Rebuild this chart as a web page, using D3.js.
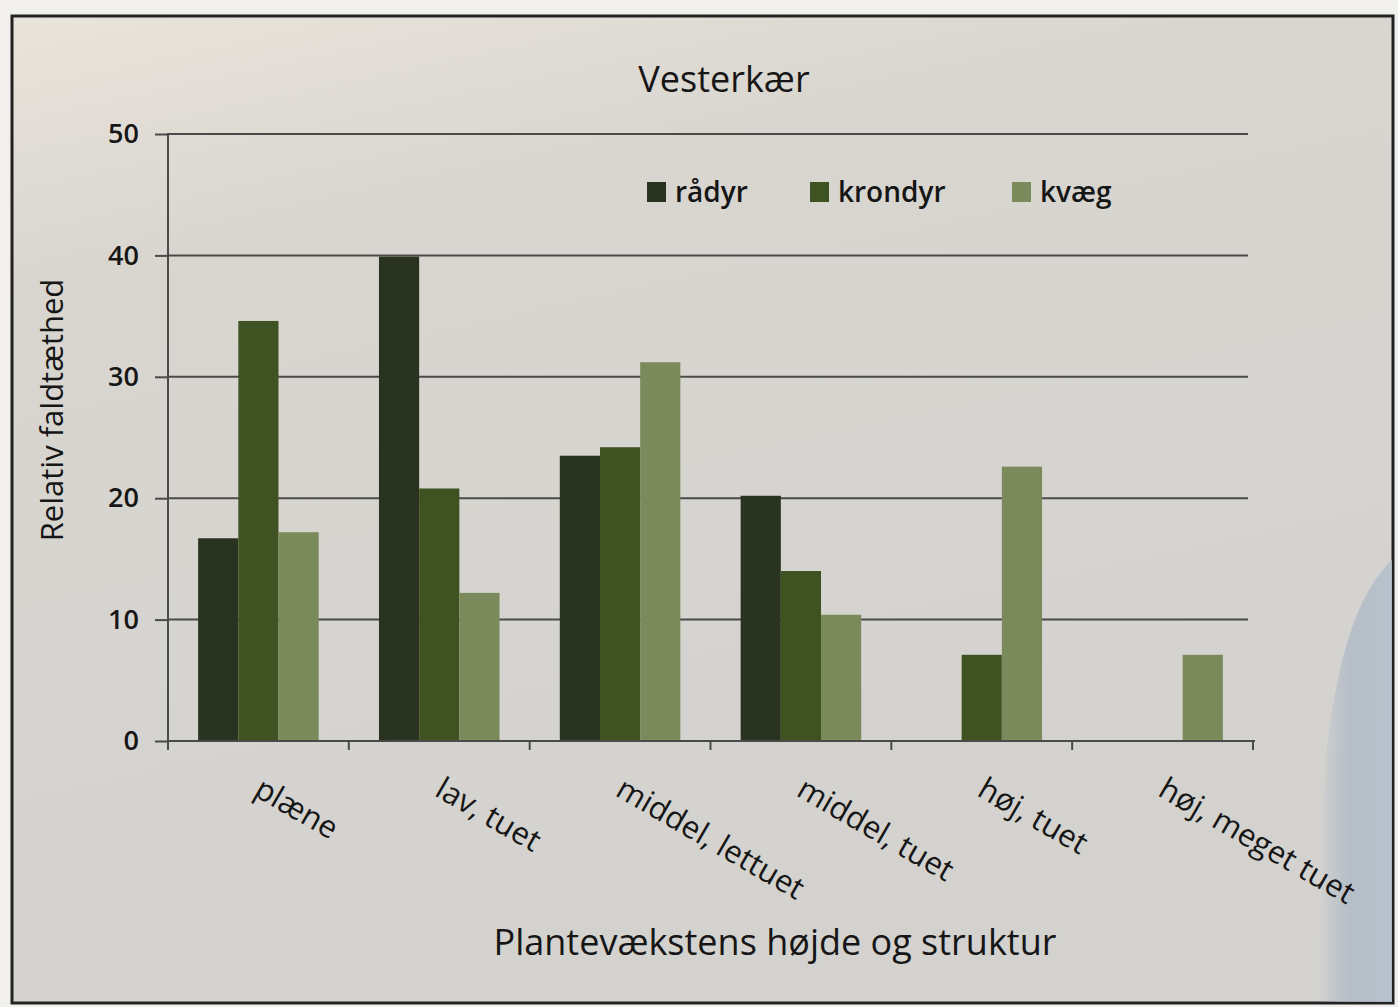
<!DOCTYPE html>
<head>
<meta charset="utf-8">
<title>Vesterkær</title>
<style>
html, body { margin:0; padding:0; overflow:hidden; background-color:#f2f0ec; }
svg { position:fixed; top:0; left:0; }
text { font-family:'Open Sans', 'Noto Sans', sans-serif; fill:#161616; }
</style>
</head>
<body>
<svg id="stage" width="1398" height="1007"></svg>
<script src="https://d3js.org/d3.v7.min.js"></script>
<script>

var categories = ["plæne", "lav, tuet", "middel, lettuet", "middel, tuet", "høj, tuet", "høj, meget tuet"];
var seriesNames = ["rådyr", "krondyr", "kvæg"];
var raadyr  = [16.7, 39.9, 23.5, 20.2, 0, 0];
var krondyr = [34.6, 20.8, 24.2, 14.0, 7.1, 0];
var kvaeg   = [17.2, 12.2, 31.2, 10.4, 22.6, 7.1];
var yTicks = [0, 10, 20, 30, 40, 50];

var colorArr = ["#2a3320", "#3f5222", "#7a8a5b"];

var svg = d3.select("#stage");
var plotLeft = 168, plotRight = 1253, plotTop = 134, plotBottom = 741;

// paper + gradients to mimic the photo lighting
var defs = svg.append("defs");
var g1 = defs.append("linearGradient").attr("id", "paper").attr("x1", 0).attr("y1", 0).attr("x2", 0.3).attr("y2", 1);
g1.append("stop").attr("offset", "0%").attr("stop-color", "#e9e4db");
g1.append("stop").attr("offset", "25%").attr("stop-color", "#d9d6d0");
g1.append("stop").attr("offset", "100%").attr("stop-color", "#d3d2cf");
var g2 = defs.append("linearGradient").attr("id", "shade").attr("x1", 0).attr("y1", 0).attr("x2", 1).attr("y2", 0);
g2.append("stop").attr("offset", "0%").attr("stop-color", "#aab6c4").attr("stop-opacity", 0);
g2.append("stop").attr("offset", "40%").attr("stop-color", "#aab6c4").attr("stop-opacity", 0.7);
g2.append("stop").attr("offset", "100%").attr("stop-color", "#b3bfcc").attr("stop-opacity", 0.85);

svg.append("rect").attr("x", 12).attr("y", 16).attr("width", 1381).attr("height", 987)
  .attr("fill", "url(#paper)").attr("stroke", "#222").attr("stroke-width", 3);
svg.append("path")
  .attr("d", "M1392,560 C1350,600 1335,680 1325,760 L1318,1002 L1392,1002 Z")
  .attr("fill", "url(#shade)");

var x0 = d3.scaleBand().domain(categories).range([plotLeft, plotRight]);
var x1 = d3.scaleBand().domain(seriesNames).range([x0.bandwidth() / 6, x0.bandwidth() * 5 / 6]);
var y = d3.scaleLinear().domain([0, 50]).range([plotBottom, plotTop]);
var color = d3.scaleOrdinal().domain(seriesNames).range(colorArr);

// gridlines
svg.append("g")
  .selectAll("line")
  .data(yTicks.slice(1))
  .enter().append("line")
    .attr("x1", plotLeft).attr("x2", plotRight - 5)
    .attr("y1", function(d) { return y(d); })
    .attr("y2", function(d) { return y(d); })
    .attr("stroke", "#4a4a4a").attr("stroke-width", 2);

// bars
var rows = categories.map(function(c, i) {
  return { cat: c, vals: [raadyr[i], krondyr[i], kvaeg[i]] };
});
svg.append("g")
  .selectAll("g")
  .data(rows)
  .enter().append("g")
    .attr("transform", function(d) { return "translate(" + x0(d.cat) + ",0)"; })
  .selectAll("rect")
  .data(function(d) { return d.vals.map(function(v, j) { return { key: seriesNames[j], v: v }; }); })
  .enter().append("rect")
    .attr("x", function(d) { return x1(d.key); })
    .attr("width", x1.bandwidth())
    .attr("y", function(d) { return y(d.v); })
    .attr("height", function(d) { return y(0) - y(d.v); })
    .attr("fill", function(d) { return color(d.key); });

// y axis
var yAxis = svg.append("g")
  .attr("transform", "translate(" + plotLeft + ",0)")
  .call(d3.axisLeft(y).tickValues(yTicks).tickSize(13).tickPadding(16));
yAxis.select(".domain").attr("stroke", "#4a4a4a").attr("stroke-width", 2)
  .attr("d", "M0," + (plotTop - 1) + "V" + (plotBottom + 4));
yAxis.selectAll(".tick line").attr("stroke", "#4a4a4a").attr("stroke-width", 2);
yAxis.selectAll(".tick text")
  .style("font-family", "'Open Sans', sans-serif")
  .style("font-size", "27px").style("font-weight", 600).attr("fill", "#262626");

// x axis
var xAxis = svg.append("g")
  .attr("transform", "translate(0," + plotBottom + ")");
xAxis.append("line").attr("x1", plotLeft).attr("x2", plotRight + 2).attr("y1", 0).attr("y2", 0)
  .attr("stroke", "#4a4a4a").attr("stroke-width", 2);
xAxis.selectAll("line.tk")
  .data(categories.concat(["end"]))
  .enter().append("line").attr("class", "tk")
    .attr("x1", function(d, i) { return plotLeft + i * x0.step(); })
    .attr("x2", function(d, i) { return plotLeft + i * x0.step(); })
    .attr("y1", 0).attr("y2", 9)
    .attr("stroke", "#4a4a4a").attr("stroke-width", 2);
xAxis.selectAll("text")
  .data(categories)
  .enter().append("text")
    .attr("transform", function(d) { return "translate(" + (x0(d) + x0.bandwidth() / 2 - 6) + ",54) rotate(30)"; })
    .attr("text-anchor", "start")
    .style("font-size", "31px")
    .text(function(d) { return d; });

// titles
svg.append("text").attr("x", 724).attr("y", 92).attr("text-anchor", "middle")
  .style("font-size", "36px").text("Vesterkær");
svg.append("text").attr("transform", "translate(63,410) rotate(-90)").attr("text-anchor", "middle")
  .style("font-size", "31px").text("Relativ faldtæthed");
svg.append("text").attr("x", 775).attr("y", 955).attr("text-anchor", "middle")
  .style("font-size", "36px").text("Plantevækstens højde og struktur");

// legend
var legendX = [647, 810, 1012];
var legend = svg.append("g").selectAll("g")
  .data(seriesNames)
  .enter().append("g")
    .attr("transform", function(d, i) { return "translate(" + legendX[i] + ",182)"; });
legend.append("rect").attr("width", 19).attr("height", 20).attr("fill", color);
legend.append("text").attr("x", 28).attr("y", 20)
  .style("font-size", "28px").style("font-weight", 600).text(function(d) { return d; });

</script>
